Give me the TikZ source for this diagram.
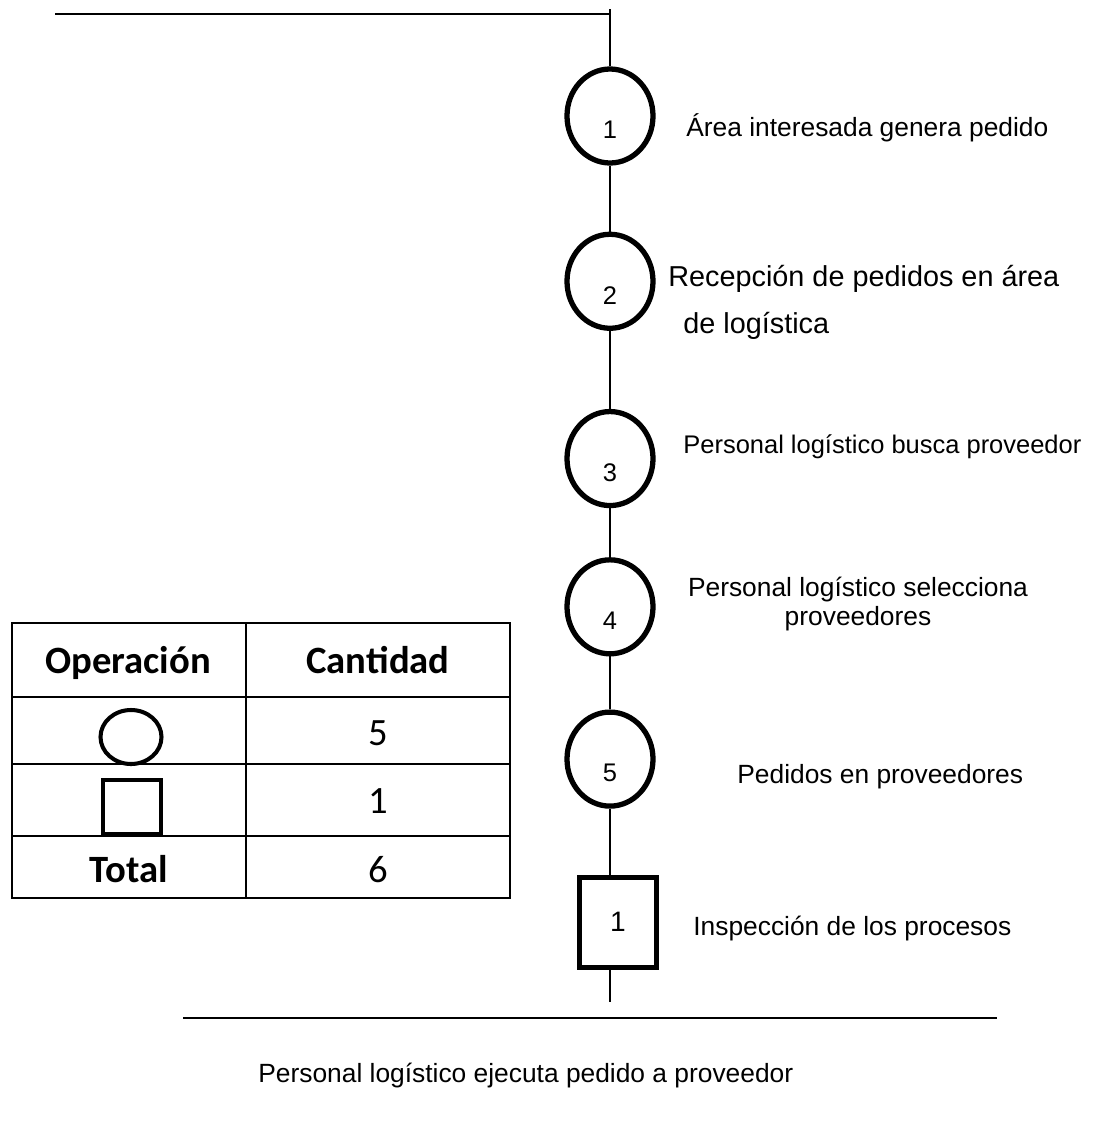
\documentclass[tikz,border=0pt]{standalone}
\usepackage{fontspec}
\setmainfont{Liberation Sans}
\newfontfamily\tabfont{Carlito}
\usepackage{tikz}
\usetikzlibrary{positioning,shapes.geometric}
\tikzset{
  opcirc/.style={
    ellipse,
    draw=black,
    line width=3pt,
    minimum width=17.2mm,
    minimum height=18.8mm,
    inner sep=0pt,
    label={[font=\fontsize{14.5}{16}\selectfont, yshift=-2.8mm]center:#1}
  },
  opbox/.style={
    rectangle,
    draw=black,
    line width=2.8pt,
    minimum width=15.4mm,
    minimum height=18mm,
    inner sep=0pt,
    font=\fontsize{16}{18}\selectfont
  },
  desc/.style={
    anchor=base west,
    inner sep=0pt,
    font=\fontsize{15}{18}\selectfont
  },
  symcircle/.style={
    ellipse,
    draw=black,
    line width=2.3pt,
    minimum width=12.2mm,
    minimum height=10.8mm,
    inner sep=0pt
  },
  symsquare/.style={
    rectangle,
    draw=black,
    line width=2.3pt,
    minimum width=11.6mm,
    minimum height=10.8mm,
    inner sep=0pt
  },
  headtxt/.style={anchor=base, inner sep=0pt, font=\tabfont\bfseries\fontsize{22}{26}\selectfont},
  celltxt/.style={anchor=base, inner sep=0pt, font=\tabfont\fontsize{22}{26}\selectfont},
  link/.style={line width=0.8pt, black},
  rule/.style={line width=1.1pt, black},
  grid/.style={line width=1.5pt, black}
}

\begin{document}
\begin{tikzpicture}[x=0.2mm, y=-0.2mm]
\useasboundingbox (0,0) rectangle (1114,1146);
\node[opcirc=1] (c1) at (610,116) {};
\node[opcirc=2, below=13.2mm of c1] (c2) {};
\node[opcirc=3, below=15.6mm of c2] (c3) {};
\node[opcirc=4, below=9.8mm of c3] (c4) {};
\node[opcirc=5, below=10.6mm of c4] (c5) {};
\node[opbox, below=13.2mm of c5, xshift=1.6mm] (sq) {1};
\coordinate (tl) at (55,14);
\coordinate (tr) at (610,14);
\coordinate (top) at (610,9);
\coordinate (endv) at (610,1002);
\coordinate (bl) at (183,1018);
\coordinate (br) at (997,1018);
\draw[rule] (tl) -- (tr);
\draw[link] (top) -- (c1);
\draw[link] (c1) -- (c2);
\draw[link] (c2) -- (c3);
\draw[link] (c3) -- (c4);
\draw[link] (c4) -- (c5);
\draw[link] (c5) -- (c5 |- sq.north);
\draw[link] (sq.south -| c5) -- (endv);
\draw[rule] (bl) -- (br);
\node[desc] (t1) at (686,136) {Área interesada genera pedido};
\node[desc, align=left, font=\fontsize{16.4}{26.2}\selectfont] (t2) at (668,333) {Recepción de pedidos en área\\\hspace*{3mm}de logística};
\node[desc, font=\fontsize{14.5}{18}\selectfont] (t3) at (683,453) {Personal logístico busca proveedor};
\node[desc, anchor=base, align=center, font=\fontsize{15}{16}\selectfont] (t4) at (858,625) {Personal logístico selecciona\\proveedores};
\node[desc] (t5) at (737,783) {Pedidos en proveedores};
\node[desc] (t6) at (693,935) {Inspección de los procesos};
\node[desc] (t7) at (258,1082) {Personal logístico ejecuta pedido a proveedor};
\draw[grid] (12,623) rectangle (510,898);
\draw[grid] (246,623) -- (246,898);
\foreach \ry in {697,764,836}
  \draw[grid] (12,\ry) -- (510,\ry);
\node[symcircle] (symc) at (131,737) {};
\node[symsquare] (syms) at (132,807) {};
\node[headtxt] (hop) at (128,673) {Operación};
\node[headtxt] (hcant) at (378,673) {Cantidad};
\node[celltxt] (ncirc) at (378,745) {5};
\node[celltxt] (nsq) at (378,813) {1};
\node[headtxt] (htot) at (129,882) {Total};
\node[celltxt] (ntot) at (378,882) {6};
\end{tikzpicture}
\end{document}
